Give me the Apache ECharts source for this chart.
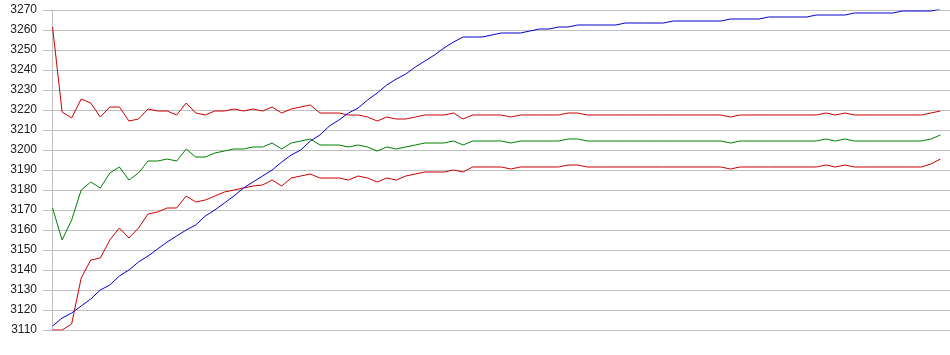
<!DOCTYPE html>
<html>
<head>
<meta charset="utf-8">
<script src="https://cdn.jsdelivr.net/npm/echarts@6/dist/echarts.min.js"></script>
<style>
html,body{margin:0;padding:0;background:#fff;}
#chart{width:950px;height:355px;}
</style>
</head>
<body>
<div id="chart"></div>
<script>
// y-axis tick labels
const yTicks = [3110,3120,3130,3140,3150,3160,3170,3180,3190,3200,3210,3220,3230,3240,3250,3260,3270];

// series values (one per sample, index 0..93)
const redTop = [3261.5,3219,3216,3225.5,3223.5,3216.5,3221.5,3221.5,3214.5,3215.5,
  3220.5,3219.5,3219.5,3217.5,3223.5,3218.5,3217.5,3219.5,3219.5,3220.5,
  3219.5,3220.5,3219.5,3221.5,3218.5,3220.5,3221.5,3222.5,3218.5,3218.5,
  3218.5,3217.5,3217.5,3216.5,3214.5,3216.5,3215.5,3215.5,3216.5,3217.5,
  3217.5,3217.5,3218.5,3215.5,3217.5,3217.5,3217.5,3217.5,3216.5,3217.5,
  3217.5,3217.5,3217.5,3217.5,3218.5,3218.5,3217.5,3217.5,3217.5,3217.5,
  3217.5,3217.5,3217.5,3217.5,3217.5,3217.5,3217.5,3217.5,3217.5,3217.5,
  3217.5,3216.5,3217.5,3217.5,3217.5,3217.5,3217.5,3217.5,3217.5,3217.5,
  3217.5,3218.5,3217.5,3218.5,3217.5,3217.5,3217.5,3217.5,3217.5,3217.5,
  3217.5,3217.5,3218.5,3219.5];

const green = [3171,3155,3165,3180,3184,3181,3188.5,3191.5,3185,3188.5,
  3194.5,3194.5,3195.5,3194.5,3200.5,3196.5,3196.5,3198.5,3199.5,3200.5,
  3200.5,3201.5,3201.5,3203.5,3200.5,3203.5,3204.5,3205.5,3202.5,3202.5,
  3202.5,3201.5,3202.5,3201.5,3199.5,3201.5,3200.5,3201.5,3202.5,3203.5,
  3203.5,3203.5,3204.5,3202.5,3204.5,3204.5,3204.5,3204.5,3203.5,3204.5,
  3204.5,3204.5,3204.5,3204.5,3205.5,3205.5,3204.5,3204.5,3204.5,3204.5,
  3204.5,3204.5,3204.5,3204.5,3204.5,3204.5,3204.5,3204.5,3204.5,3204.5,
  3204.5,3203.5,3204.5,3204.5,3204.5,3204.5,3204.5,3204.5,3204.5,3204.5,
  3204.5,3205.5,3204.5,3205.5,3204.5,3204.5,3204.5,3204.5,3204.5,3204.5,
  3204.5,3204.5,3205.5,3207.5];

const redBottom = [3110,3110,3113,3136,3145,3146,3155,3161,3156,3161,
  3168,3169,3171,3171,3177,3174,3175,3177,3179,3180,
  3181,3182,3182.5,3185,3182,3186,3187,3188,3186,3186,
  3186,3185,3187,3186,3184,3186,3185,3187,3188,3189,
  3189,3189,3190,3189,3191.5,3191.5,3191.5,3191.5,3190.5,3191.5,
  3191.5,3191.5,3191.5,3191.5,3192.5,3192.5,3191.5,3191.5,3191.5,3191.5,
  3191.5,3191.5,3191.5,3191.5,3191.5,3191.5,3191.5,3191.5,3191.5,3191.5,
  3191.5,3190.5,3191.5,3191.5,3191.5,3191.5,3191.5,3191.5,3191.5,3191.5,
  3191.5,3192.5,3191.5,3192.5,3191.5,3191.5,3191.5,3191.5,3191.5,3191.5,
  3191.5,3191.5,3193,3195.5];

const blue = [3112,3116,3118.5,3122,3125.5,3130,3132.5,3137,3140,3144,
  3147,3150.5,3154,3157,3160,3162.5,3167,3170,3173.5,3177,
  3181,3184,3187,3190,3194,3197.5,3200,3204.5,3207.5,3212,
  3215,3218.5,3221,3225,3228.5,3232.5,3235.5,3238,3241.5,3244.5,
  3247.5,3251,3254,3256.5,3256.5,3256.5,3257.5,3258.5,3258.5,3258.5,
  3259.5,3260.5,3260.5,3261.5,3261.5,3262.5,3262.5,3262.5,3262.5,3262.5,
  3263.5,3263.5,3263.5,3263.5,3263.5,3264.5,3264.5,3264.5,3264.5,3264.5,
  3264.5,3265.5,3265.5,3265.5,3265.5,3266.5,3266.5,3266.5,3266.5,3266.5,
  3267.5,3267.5,3267.5,3267.5,3268.5,3268.5,3268.5,3268.5,3268.5,3269.5,
  3269.5,3269.5,3269.5,3270.5];

function pairs(arr){ return arr.map((v,i)=>[i,v]); }

const chart = echarts.init(document.getElementById('chart'), null, {renderer:'canvas'});
chart.setOption({
  animation:false,
  backgroundColor:'#ffffff',
  grid:{left:43, right:0, top:10, bottom:25, containLabel:false},
  xAxis:{type:'value', min:-1, max:redTop.length,
    axisLine:{show:false}, axisTick:{show:false}, axisLabel:{show:false}, splitLine:{show:false}},
  yAxis:{type:'value', min:yTicks[0], max:yTicks[yTicks.length-1], interval:yTicks[1]-yTicks[0],
    axisLine:{show:true, lineStyle:{color:'#c0c0c0', width:1}},
    axisTick:{show:false},
    axisLabel:{color:'#222', fontSize:12, fontFamily:'Liberation Sans, Arial, sans-serif', margin:6,
      formatter:function(v){ return String(v); }},
    splitLine:{show:true, lineStyle:{color:'#c0c0c0', width:1}}},
  series:[
    {type:'line', data:pairs(redBottom), symbol:'none', lineStyle:{color:'#cc0000', width:1}, itemStyle:{color:'#cc0000'}},
    {type:'line', data:pairs(green), symbol:'none', lineStyle:{color:'#008000', width:1}, itemStyle:{color:'#008000'}},
    {type:'line', data:pairs(redTop), symbol:'none', lineStyle:{color:'#cc0000', width:1}, itemStyle:{color:'#cc0000'}},
    {type:'line', data:pairs(blue), symbol:'none', lineStyle:{color:'#0000cc', width:1}, itemStyle:{color:'#0000cc'}}
  ]
});
</script>
</body>
</html>
